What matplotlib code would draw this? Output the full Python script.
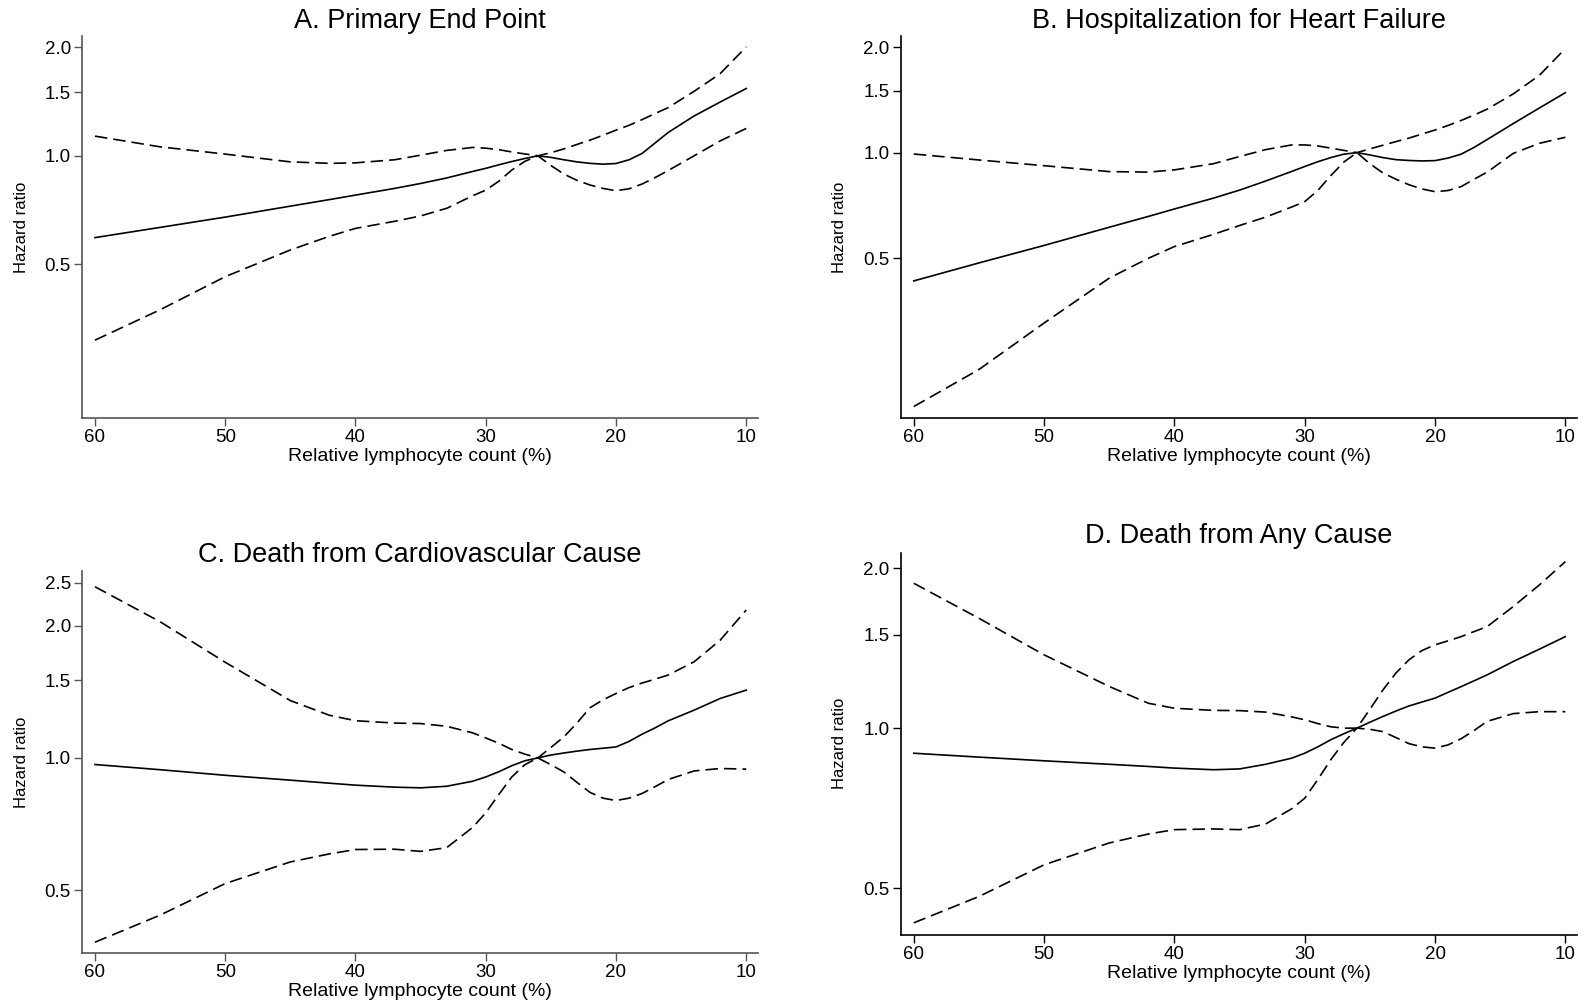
import matplotlib.pyplot as plt
from matplotlib.ticker import FixedLocator, FormatStrFormatter, NullLocator

plt.rcParams["font.family"] = ["Liberation Sans", "DejaVu Sans"]

# Relative lymphocyte count (%) at which the curves were read
LYMPH = [60, 55, 50, 45, 42, 40, 37, 35, 33, 31, 30, 29, 28, 27, 26,
         25, 24, 23, 22, 21, 20, 19, 18, 17, 16, 14, 12, 10]

# A. Primary end point
A_HR = [0.593, 0.633, 0.676, 0.725, 0.756, 0.778, 0.812, 0.838, 0.868, 0.905, 0.923, 0.944, 0.964, 0.983, 1.0,
        0.990, 0.975, 0.962, 0.953, 0.948, 0.952, 0.975, 1.015, 1.085, 1.160, 1.290, 1.410, 1.537]
A_LO = [0.308, 0.374, 0.462, 0.548, 0.598, 0.629, 0.658, 0.681, 0.715, 0.775, 0.803, 0.850, 0.913, 0.965, 1.0,
        0.940, 0.890, 0.855, 0.830, 0.812, 0.800, 0.810, 0.835, 0.870, 0.910, 1.000, 1.100, 1.191]
A_HI = [1.134, 1.059, 1.011, 0.962, 0.953, 0.956, 0.975, 1.004, 1.035, 1.055, 1.050, 1.040, 1.025, 1.012, 1.0,
        1.020, 1.045, 1.075, 1.105, 1.140, 1.178, 1.215, 1.260, 1.310, 1.360, 1.510, 1.690, 2.005]

# B. Hospitalization for heart failure
B_HR = [0.431, 0.485, 0.544, 0.613, 0.658, 0.691, 0.742, 0.782, 0.830, 0.884, 0.913, 0.942, 0.968, 0.990, 1.0,
        0.985, 0.968, 0.955, 0.950, 0.947, 0.949, 0.965, 0.990, 1.035, 1.090, 1.210, 1.340, 1.482]
B_LO = [0.189, 0.241, 0.327, 0.439, 0.500, 0.540, 0.585, 0.620, 0.655, 0.700, 0.725, 0.780, 0.860, 0.940, 1.0,
        0.930, 0.875, 0.840, 0.810, 0.788, 0.774, 0.780, 0.800, 0.840, 0.880, 0.995, 1.063, 1.106]
B_HI = [0.991, 0.953, 0.918, 0.883, 0.880, 0.893, 0.930, 0.975, 1.020, 1.052, 1.052, 1.045, 1.030, 1.015, 1.0,
        1.025, 1.050, 1.075, 1.100, 1.130, 1.160, 1.195, 1.235, 1.280, 1.330, 1.470, 1.660, 1.980]

# C. Death from cardiovascular cause
C_HR = [0.966, 0.940, 0.913, 0.890, 0.876, 0.867, 0.858, 0.855, 0.862, 0.885, 0.905, 0.930, 0.960, 0.985, 1.0,
        1.015, 1.026, 1.036, 1.045, 1.052, 1.059, 1.090, 1.132, 1.170, 1.214, 1.284, 1.365, 1.426]
C_LO = [0.381, 0.439, 0.518, 0.580, 0.605, 0.619, 0.620, 0.613, 0.625, 0.695, 0.750, 0.825, 0.905, 0.965, 1.0,
        0.965, 0.929, 0.880, 0.835, 0.810, 0.800, 0.810, 0.830, 0.860, 0.893, 0.934, 0.946, 0.943]
C_HI = [2.450, 2.040, 1.650, 1.350, 1.250, 1.215, 1.200, 1.197, 1.180, 1.140, 1.110, 1.080, 1.045, 1.020, 1.0,
        1.056, 1.116, 1.200, 1.300, 1.355, 1.401, 1.445, 1.480, 1.510, 1.543, 1.654, 1.852, 2.169]

# D. Death from any cause
D_HR = [0.897, 0.882, 0.868, 0.855, 0.847, 0.841, 0.835, 0.838, 0.855, 0.878, 0.897, 0.922, 0.951, 0.976, 1.0,
        1.026, 1.052, 1.077, 1.101, 1.120, 1.139, 1.168, 1.197, 1.228, 1.260, 1.335, 1.408, 1.487]
D_LO = [0.430, 0.482, 0.553, 0.608, 0.632, 0.644, 0.646, 0.644, 0.660, 0.705, 0.738, 0.800, 0.872, 0.940, 1.0,
        0.995, 0.985, 0.960, 0.935, 0.922, 0.917, 0.930, 0.955, 0.990, 1.030, 1.065, 1.074, 1.074]
D_HI = [1.874, 1.610, 1.374, 1.198, 1.114, 1.090, 1.080, 1.079, 1.072, 1.050, 1.037, 1.020, 1.006, 1.000, 1.0,
        1.085, 1.180, 1.270, 1.345, 1.400, 1.435, 1.460, 1.487, 1.520, 1.553, 1.694, 1.860, 2.058]

TITLES = ["A. Primary End Point", "B. Hospitalization for Heart Failure",
          "C. Death from Cardiovascular Cause", "D. Death from Any Cause"]
Y_TICKS = [[0.5, 1.0, 1.5, 2.0], [0.5, 1.0, 1.5, 2.0],
           [0.5, 1.0, 1.5, 2.0, 2.5], [0.5, 1.0, 1.5, 2.0]]
X_TICKS = [60, 50, 40, 30, 20, 10]

# layout (figure fractions), y limits, spine colour, title pad
LAYOUT = [
    dict(rect=[0.0517, 0.5838, 0.4265, 0.3804], ylim=(0.187, 2.15), color="#555555", pad=5.4),
    dict(rect=[0.5683, 0.5838, 0.4267, 0.3804], ylim=(0.175, 2.15), color="black", pad=5.4),
    dict(rect=[0.0517, 0.0517, 0.4265, 0.3801], ylim=(0.36, 2.66), color="#555555", pad=6.8),
    dict(rect=[0.5683, 0.0697, 0.4267, 0.3804], ylim=(0.408, 2.14), color="black", pad=6.6),
]

series = [(A_HR, A_LO, A_HI), (B_HR, B_LO, B_HI), (C_HR, C_LO, C_HI), (D_HR, D_LO, D_HI)]

fig = plt.figure(figsize=(15.85, 10.05), dpi=100)

for title, (hr, lo, hi), yt, lay in zip(TITLES, series, Y_TICKS, LAYOUT):
    ax = fig.add_axes(lay["rect"])
    ax.set_yscale("log")
    ax.plot(LYMPH, hr, color="black", lw=1.2)
    ax.plot(LYMPH, lo, color="black", lw=1.2, dashes=(7.5, 3.6))
    ax.plot(LYMPH, hi, color="black", lw=1.2, dashes=(7.5, 3.6))

    ax.set_xlim(61.0, 9.1)
    ax.set_ylim(*lay["ylim"])
    ax.xaxis.set_major_locator(FixedLocator(X_TICKS))
    ax.yaxis.set_major_locator(FixedLocator(yt))
    ax.yaxis.set_minor_locator(NullLocator())
    ax.yaxis.set_major_formatter(FormatStrFormatter("%.1f"))

    for side in ("top", "right"):
        ax.spines[side].set_visible(False)
    for side in ("left", "bottom"):
        ax.spines[side].set_color(lay["color"])
        ax.spines[side].set_linewidth(1.2)
    ax.tick_params(axis="both", direction="out", length=6, width=1.0,
                   color=lay["color"], labelsize=13.5, pad=2)

    ax.set_title(title, fontsize=19.5, pad=lay["pad"])
    ax.set_xlabel("Relative lymphocyte count (%)", fontsize=14, va="center")
    ax.xaxis.set_label_coords(0.5, -0.1)
    ax.set_ylabel("Hazard ratio", fontsize=12, va="center")
    ax.yaxis.set_label_coords(-0.09, 0.5)

fig.savefig("out.png", dpi=100)
